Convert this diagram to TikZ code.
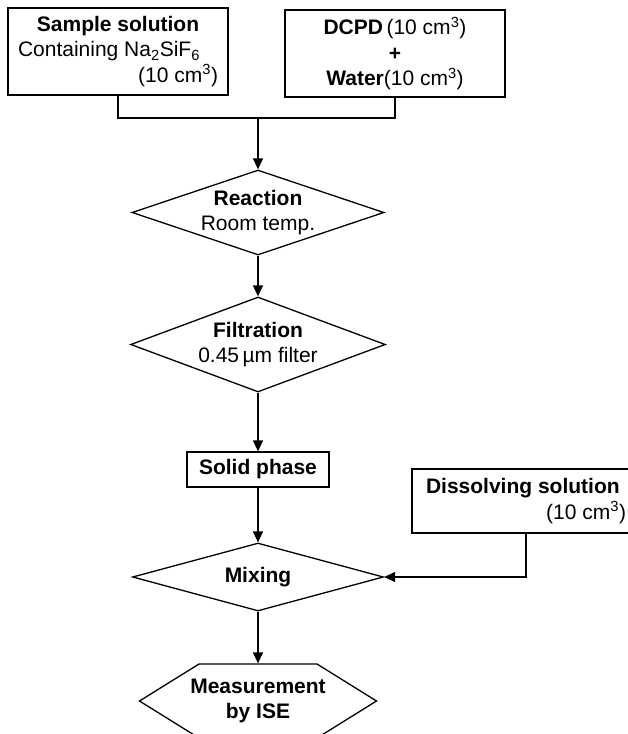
\documentclass[tikz,border=0pt]{standalone}
\usepackage{fontspec}
\setmainfont{Liberation Sans}
\usepackage{tikz}
\usetikzlibrary{positioning,shapes.geometric,arrows.meta}

\begin{document}
\begin{tikzpicture}[x=1pt, y=-1pt, line width=1.3pt,
        every node/.style={align=center, font=\fontsize{21}{25.5}\selectfont},
        box/.style={draw, rectangle, inner sep=0pt},
        decision/.style={draw, diamond, aspect=3, inner sep=0pt},
        arr/.style={-{Triangle[length=11pt,width=10pt]}}]
            \useasboundingbox (0,0) rectangle (628,734);
            \clip (0,0) rectangle (628,734);

            % 起始溶液
            \node (sample) at (118,51.5) [box, minimum width=220pt, minimum height=87pt, text width=200pt, align=flush left]
                {\makebox[200pt]{\textbf{Sample solution}}\\Containing Na\textsubscript{2}SiF\textsubscript{6}\\\hspace*{\fill}(10 cm\textsuperscript{3})};
            \node (dcpd) at (395,53.5) [box, minimum width=220pt, minimum height=87pt]
                {\textbf{DCPD}\,(10 cm\textsuperscript{3})\\\textbf{+}\\\textbf{Water}(10 cm\textsuperscript{3})};
            \coordinate (join) at (258,118);

            % 主流程
            \node (react) at (258,212.5) [decision, minimum width=252pt, minimum height=85pt] {\textbf{Reaction}\\Room temp.};
            \node (filt) at (258,344.5) [decision, minimum width=253pt, minimum height=95pt] {\textbf{Filtration}\\0.45\,µm filter};
            \node (solid) at (258,469.5) [box, minimum width=142pt, minimum height=35pt] {\textbf{Solid phase}};
            \node (dis) at (526,501) [box, minimum width=228pt, minimum height=64pt, text width=200pt, align=flush left]
                {\textbf{Dissolving solution}\\\hspace*{\fill}(10 cm\textsuperscript{3})};
            \node (mix) at (258,577) [decision, minimum width=251pt, minimum height=68pt] {\textbf{Mixing}};
            \node (meas) at (258,701) [minimum height=74pt, inner sep=0pt] {\textbf{Measurement}\\\textbf{by ISE}};
            \draw ([xshift=-59pt,yshift=37pt]meas.center) -- ([xshift=59pt,yshift=37pt]meas.center)
                -- ([xshift=118.5pt]meas.center) -- ([xshift=59pt,yshift=-37pt]meas.center)
                -- ([xshift=-59pt,yshift=-37pt]meas.center) -- ([xshift=-118.5pt]meas.center) -- cycle;

            % arrows
            \draw (sample.south) |- (join) -| (dcpd.south);
            \draw[arr] (join) -- (react.north);
            \draw[arr] (react.south) -- (filt.north);
            \draw[arr] (filt.south) -- (solid.north);
            \draw[arr] (solid.south) -- (mix.north);
            \draw[arr] (dis.south) |- (mix.east);
            \draw[arr] (mix.south) -- (meas.north);
        \end{tikzpicture}
\end{document}
